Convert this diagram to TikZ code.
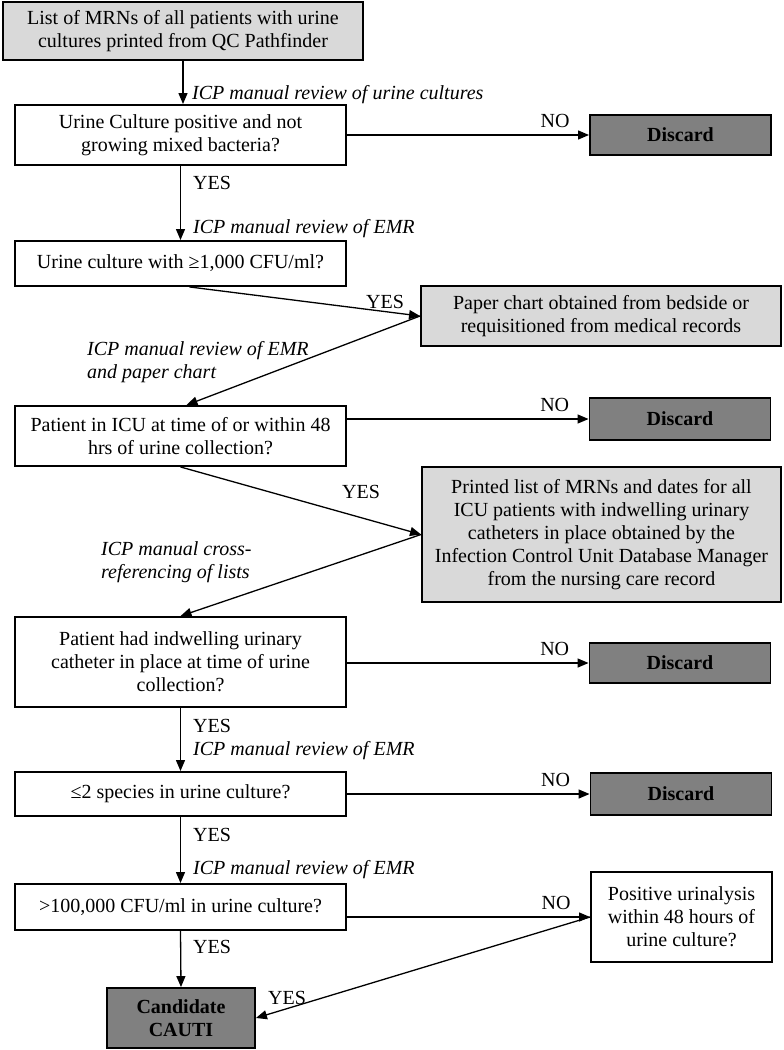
\documentclass[tikz,border=0pt]{standalone}
\usepackage{fontspec}
\setmainfont{Liberation Serif}
\usepackage{tikz}
\usetikzlibrary{arrows.meta}
\usetikzlibrary{calc}

\definecolor{infogray}{RGB}{217,217,217}
\definecolor{endgray}{RGB}{128,128,128}

\tikzset{
  basebox/.style={draw, line width=1.9pt, inner sep=0pt, align=center,
    font=\fontsize{20}{23}\selectfont},
  qbox/.style={basebox, fill=white, minimum width=331pt},
  infobox/.style={basebox, fill=infogray},
  endbox/.style={basebox, fill=endgray, minimum width=181pt,
    font=\fontsize{20}{23}\selectfont\bfseries},
  flow/.style={line width=1.3pt, -{Triangle[length=11pt,width=9pt]}},
  note/.style={anchor=west, inner sep=0pt, align=left,
    font=\fontsize{20}{23}\selectfont\itshape},
  ans/.style={inner sep=0pt, font=\fontsize{20}{23}\selectfont}
}

\begin{document}
\begin{tikzpicture}[x=1pt, y=-1pt]
  \useasboundingbox (0,0) rectangle (784,1050);

  % boxes
  \node[infobox, minimum width=360pt, minimum height=58pt] (src) at (183,31)
    {List of MRNs of all patients with urine\\cultures printed from QC Pathfinder};
  \node[qbox, minimum height=60pt] (q1) at (180.5,135)
    {Urine Culture positive and not\\growing mixed bacteria?};
  \node[endbox, minimum height=40pt] (d1) at (680.5,135) {Discard};
  \node[qbox, minimum height=45pt] (q2) at (180.5,263.5)
    {Urine culture with ≥1,000 CFU/ml?};
  \node[infobox, minimum width=360pt, minimum height=60pt] (chart) at (601,316)
    {Paper chart obtained from bedside or\\requisitioned from medical records};
  \node[qbox, minimum height=60pt] (q3) at (180.5,436)
    {Patient in ICU at time of or within 48\\hrs of urine collection?};
  \node[endbox, minimum height=42pt] (d2) at (680,419) {Discard};
  \node[infobox, minimum width=359pt, minimum height=135pt] (list) at (601.5,534.5)
    {Printed list of MRNs and dates for all\\ICU patients with indwelling urinary\\
     catheters in place obtained by the\\Infection Control Unit Database Manager\\
     from the nursing care record};
  \node[qbox, minimum height=90pt] (q4) at (180.5,662)
    {Patient had indwelling urinary\\catheter in place at time of urine\\collection?};
  \node[endbox, minimum height=40pt] (d3) at (680,663) {Discard};
  \node[qbox, minimum height=44pt] (q5) at (180.5,794)
    {≤2 species in urine culture?};
  \node[endbox, minimum height=42pt] (d4) at (681,794) {Discard};
  \node[qbox, minimum height=46pt] (q6) at (180.5,907)
    {>100,000 CFU/ml in urine culture?};
  \node[basebox, fill=white, minimum width=181pt, minimum height=90pt] (ua) at (681.5,917)
    {Positive urinalysis\\within 48 hours of\\urine culture?};
  \node[endbox, minimum width=148pt, minimum height=60pt] (cand) at (181,1018)
    {Candidate\\CAUTI};

  % connectors
  \draw[flow] (src.south) -- (src.south |- q1.north);
  \draw[flow] (q1.east) -- node[ans, pos=0.86, above=7pt] {NO} (d1.west);
  \draw[flow] (q1.south) -- (q2.north);
  \draw[flow] ($(q2.south)+(9,0)$) -- (chart.west);
  \draw[flow] (chart.west) -- ($(q3.north)+(6,0)$);
  \draw[flow] (d2.west -| q3.east) -- node[ans, pos=0.86, above=7pt] {NO} (d2.west);
  \draw[flow] (q3.south) -- (list.west);
  \draw[flow] (list.west) -- (q4.north);
  \draw[flow] (q4.east |- d3.west) -- node[ans, pos=0.86, above=7pt] {NO} (d3.west);
  \draw[flow] (q4.south) -- (q5.north);
  \draw[flow] (q5.east) -- node[ans, pos=0.86, above=7pt] {NO} (d4.west);
  \draw[flow] (q5.south) -- (q6.north);
  \draw[flow] (ua.west -| q6.east) -- node[ans, pos=0.86, above=7pt] {NO} (ua.west);
  \draw[flow] (q6.south) -- (cand.north);
  \draw[flow] (ua.west) -- (cand.east);

  % step labels
  \node[note] (n1) at (192,95) {ICP manual review of urine cultures};
  \node[ans, anchor=west] (y1) at (193,183) {YES};
  \node[note] (n2) at (193,229) {ICP manual review of EMR};
  \node[ans] (y2) at (385,302) {YES};
  \node[note] (n3) at (87,362) {ICP manual review of EMR\\and paper chart};
  \node[ans] (y3) at (361,492) {YES};
  \node[note] (n4) at (101,562) {ICP manual cross-\\referencing of lists};
  \node[ans, anchor=west] (y4) at (193,726) {YES};
  \node[note] (n5) at (193,751) {ICP manual review of EMR};
  \node[ans, anchor=west] (y5) at (193,835) {YES};
  \node[note] (n6) at (193,870) {ICP manual review of EMR};
  \node[ans, anchor=west] (y6) at (193,947) {YES};
  \node[ans] (y7) at (287,998) {YES};
\end{tikzpicture}
\end{document}
